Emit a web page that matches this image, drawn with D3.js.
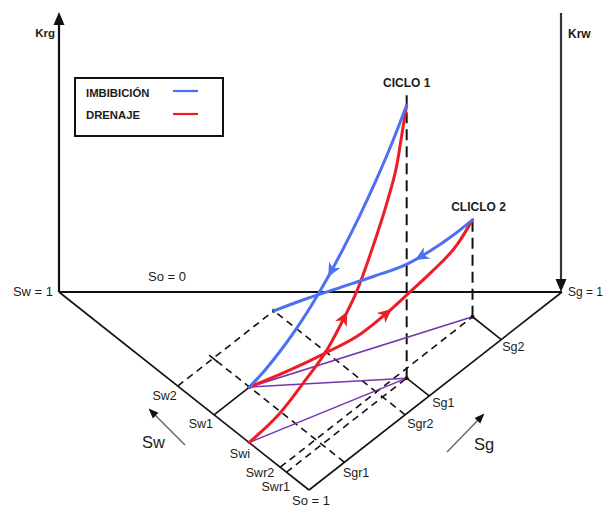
<!DOCTYPE html>
<html><head><meta charset="utf-8">
<script src="https://cdn.jsdelivr.net/npm/d3@7"></script>
<style>
body{margin:0;background:#fff}
svg{display:block}
text{font-family:"Liberation Sans",Arial,sans-serif;fill:#1c1c1c}
</style>
</head><body><svg id="c" width="607" height="508"></svg>
<script>
// ---------------- data ----------------
const swMarks = ["Sw2", "Sw1", "Swi", "Swr2", "Swr1"];
const swMarkValues = [0.525, 0.38, 0.24, 0.115, 0.09];
const sgMarks = ["Sgr1", "Sgr2", "Sg1", "Sg2"];
const sgMarkValues = [0.14, 0.38, 0.475, 0.76];
const cycleLabels = ["CICLO 1", "CLICLO 2"];
const cyclePeakKrg = [0.975, 0.346];
const legendLabels = ["IMBIBICIÓN", "DRENAJE"];

// curves: fraction along saturation path (t) and Krg
const drain1T   = [0, 0.2, 0.35, 0.5, 0.6, 0.68, 0.79, 0.88, 0.94, 0.97, 1];
const drain1Krg = [0, 0.061, 0.136, 0.221, 0.304, 0.379, 0.525, 0.664, 0.782, 0.879, 0.975];
const imb1T     = [0, 0.1, 0.2, 0.3, 0.4, 0.5, 0.6, 0.7, 0.8, 0.9, 1];
const imb1Krg   = [0, 0.058, 0.125, 0.2, 0.284, 0.377, 0.479, 0.588, 0.706, 0.834, 0.975];
const drain2T   = [0, 0.18, 0.34, 0.5, 0.61, 0.72, 0.82, 0.93, 1];
const drain2Krg = [0, 0.015, 0.036, 0.065, 0.107, 0.159, 0.208, 0.274, 0.346];
const imb2T     = [0, 0.167, 0.333, 0.5, 0.67, 0.786, 0.897, 1];
const imb2Krg   = [0, 0.0475, 0.09, 0.133, 0.181, 0.23, 0.286, 0.346];
const arrowT    = [0.6, 0.525, 0.61, 0.745]; // drain1, imb1, drain2, imb2

// ---------------- drawing ----------------
const BLUE = "#4d6ff2", RED = "#ee1c25", PURPLE = "#7434ad";
const svg = d3.select("#c");
const O = [309, 490]; // So = 1 corner
const swX = d3.scaleLinear([0, 1], [0, -250]);
const swY = d3.scaleLinear([0, 1], [0, -198]);
const sgX = d3.scaleLinear([0, 1], [0, 253]);
const sgY = d3.scaleLinear([0, 1], [0, -198]);
const kY  = d3.scaleLinear([0, 1], [0, 280]);
const proj = (sw, sg, k = 0) => [O[0] + swX(sw) + sgX(sg), O[1] + swY(sw) + sgY(sg) - kY(k)];
const sw = n => swMarkValues[swMarks.indexOf(n)];
const sg = n => sgMarkValues[sgMarks.indexOf(n)];

const seg = (a, b, opt) => {
  svg.append("line").attr("x1", a[0]).attr("y1", a[1]).attr("x2", b[0]).attr("y2", b[1])
    .attr("stroke", opt.color || "#111").attr("stroke-width", opt.w || 1.6)
    .attr("stroke-dasharray", opt.dash || null).attr("stroke-linecap", "butt");
};

// states in saturation plane
const SWI = [sw("Swi"), 0];
const P1 = [sw("Sw1"), sg("Sgr1")];
const E2 = [sw("Sw2"), sg("Sgr2")];
const Q1 = [sw("Swr1"), sg("Sg1")];
const Q2 = [sw("Swr2"), sg("Sg2")];

// base triangle
const cSw = proj(1, 0), cSo = proj(0, 0), cSg = proj(0, 1);
seg(cSw, cSo, {w: 1.6});
seg(cSo, cSg, {w: 1.6});

// guide lines in base plane
const DASH = "7,5";
seg(proj(sw("Sw2"), 0), proj(sw("Sw2"), sg("Sgr2")), {dash: DASH});
seg(proj(0, sg("Sgr2")), proj(sw("Sw2"), sg("Sgr2")), {dash: DASH});
seg(proj(0, sg("Sgr1")), proj(sw("Sw2"), sg("Sgr1")), {dash: DASH});
seg(proj(sw("Swr1"), 0), proj(sw("Swr1"), sg("Sg1")), {dash: DASH});
seg(proj(sw("Swr2"), 0), proj(sw("Swr2"), sg("Sg2")), {dash: DASH});
seg(proj(sw("Sw1"), 0), proj(...P1), {w: 1.6});
seg(proj(0, sg("Sg1")), proj(...Q1), {w: 1.6});
seg(proj(0, sg("Sg2")), proj(...Q2), {w: 1.6});
// small tick where the Sgr1 guide meets the Sw2 guide
{
  const p = proj(sw("Sw2"), sg("Sgr1"));
  seg([p[0] - 4, p[1] - 3.2], [p[0] + 4, p[1] + 3.2], {w: 1.6});
}

// vertical dashed guides under peaks
seg(proj(...Q1, 0), proj(...Q1, cyclePeakKrg[0] + 0.035), {dash: "11,6", w: 2});
seg(proj(...Q2, 0), proj(...Q2, cyclePeakKrg[1]), {dash: "11,6", w: 2});

// purple base projections
seg(proj(...P1), proj(...Q2), {color: PURPLE, w: 1.5});
seg(proj(...P1), proj(...Q1), {color: PURPLE, w: 1.5});
seg(proj(...SWI), proj(...Q1), {color: PURPLE, w: 1.5});

// So = 0 edge and vertical axes
seg(cSw, cSg, {w: 2.2});
seg(cSw, [cSw[0], 24], {w: 2.2});
svg.append("path").attr("d", `M${cSw[0]},12 L${cSw[0] - 5.5},25 L${cSw[0] + 5.5},25 Z`).attr("fill", "#111");
seg([561, 13], [561, 282], {w: 2.2, color: "#333"});
svg.append("path").attr("d", `M561,292 L555.5,279 L566.5,279 Z`).attr("fill", "#111");

// corner dots
[P1, E2, Q1, Q2].forEach(p => {
  const q = proj(...p);
  svg.append("circle").attr("cx", q[0]).attr("cy", q[1]).attr("r", 2).attr("fill", "#111");
});

// curves
const lineGen = d3.line().curve(d3.curveMonotoneX);
function curve(from, to, T, K, color, reverse, aT) {
  const pts = T.map((t, i) => proj(from[0] + (to[0] - from[0]) * t, from[1] + (to[1] - from[1]) * t, K[i]));
  const path = svg.append("path").attr("d", lineGen(pts)).attr("fill", "none")
    .attr("stroke", color).attr("stroke-width", 3).attr("stroke-linecap", "round");
  // arrow
  const node = path.node(), L = node.getTotalLength();
  const tx = proj(from[0] + (to[0] - from[0]) * aT, from[1] + (to[1] - from[1]) * aT)[0];
  let best = 0, bd = 1e9;
  for (let i = 0; i <= 800; i++) {
    const p = node.getPointAtLength(L * i / 800);
    const d = Math.abs(p.x - tx);
    if (d < bd) { bd = d; best = L * i / 800; }
  }
  const p = node.getPointAtLength(best);
  const a = node.getPointAtLength(Math.max(0, best - 2)), b = node.getPointAtLength(Math.min(L, best + 2));
  let dx = b.x - a.x, dy = b.y - a.y; const n = Math.hypot(dx, dy); dx /= n; dy /= n;
  if (reverse) { dx = -dx; dy = -dy; }
  const px = -dy, py = dx;
  const tip = [p.x + dx * 8, p.y + dy * 8];
  const b1 = [p.x - dx * 6 + px * 6.5, p.y - dy * 6 + py * 6.5];
  const b2 = [p.x - dx * 6 - px * 6.5, p.y - dy * 6 - py * 6.5];
  svg.append("path").attr("d", `M${tip}L${b1}L${p.x - dx * 2},${p.y - dy * 2}L${b2}Z`).attr("fill", color);
}
curve(SWI, Q1, drain1T, drain1Krg, RED, false, arrowT[0]);
curve(P1, Q2, drain2T, drain2Krg, RED, false, arrowT[2]);
curve(P1, Q1, imb1T, imb1Krg, BLUE, true, arrowT[1]);
curve(E2, Q2, imb2T, imb2Krg, BLUE, true, arrowT[3]);

// axis labels
const txt = (x, y, s, opt = {}) => svg.append("text").attr("x", x).attr("y", y).text(s)
  .attr("font-size", opt.size || 12.5).attr("font-weight", opt.bold ? "bold" : null)
  .attr("text-anchor", opt.anchor || "start").attr("fill", opt.color || null);

const swOff = {Sw2: [-1, 14], Sw1: [-1, 13], Swi: [1, 15.5], Swr2: [-6, 10], Swr1: [3.5, 19]};
swMarks.forEach((m, i) => {
  const p = proj(swMarkValues[i], 0);
  txt(p[0] + swOff[m][0], p[1] + swOff[m][1], m, {anchor: "end"});
});
const sgOff = {Sgr1: [-1.5, 14.5], Sgr2: [2, 13.5], Sg1: [3, 11], Sg2: [1, 11.5]};
sgMarks.forEach((m, i) => {
  const p = proj(0, sgMarkValues[i]);
  txt(p[0] + sgOff[m][0], p[1] + sgOff[m][1], m);
});

txt(cSw[0] - 6, cSw[1] + 4, "Sw = 1", {anchor: "end", size: 13});
txt(148, 281, "So = 0", {size: 13});
txt(cSo[0] - 17, cSo[1] + 15, "So = 1", {size: 13});
txt(cSg[0] + 6, cSg[1] + 4, "Sg = 1", {size: 12});
txt(cSw[0] - 4, 37, "Krg", {anchor: "end", bold: true, size: 11.5});
txt(568, 38, "Krw", {bold: true, size: 12});

// cycle labels
const pk1 = proj(...Q1, cyclePeakKrg[0]), pk2 = proj(...Q2, cyclePeakKrg[1]);
txt(pk1[0], pk1[1] - 18, cycleLabels[0], {anchor: "middle", bold: true, size: 12});
txt(pk2[0] + 6, pk2[1] - 9, cycleLabels[1], {anchor: "middle", bold: true, size: 12});

// direction arrows
function dirArrow(x1, y1, x2, y2) {
  seg([x1, y1], [x2, y2], {color: "#666", w: 1.4});
  let dx = x2 - x1, dy = y2 - y1; const n = Math.hypot(dx, dy); dx /= n; dy /= n;
  const px = -dy, py = dx;
  svg.append("path").attr("d",
    `M${x2 + dx * 2},${y2 + dy * 2}L${x2 - dx * 8 + px * 4},${y2 - dy * 8 + py * 4}L${x2 - dx * 8 - px * 4},${y2 - dy * 8 - py * 4}Z`)
    .attr("fill", "#111");
}
dirArrow(185, 445, 150, 410);
dirArrow(447, 452, 483, 415);
txt(142, 448, "Sw", {size: 16.5});
txt(474, 450, "Sg", {size: 16.5});

// legend
svg.append("rect").attr("x", 75).attr("y", 78).attr("width", 148).attr("height", 58)
  .attr("fill", "#fff").attr("stroke", "#111").attr("stroke-width", 2);
[BLUE, RED].forEach((c, i) => {
  txt(86, 97 + i * 21.5, legendLabels[i], {bold: true, size: 11.3});
  seg([173, 91 + i * 23], [198, 91 + i * 23], {color: c, w: 2.2});
});
</script>
</body></html>
